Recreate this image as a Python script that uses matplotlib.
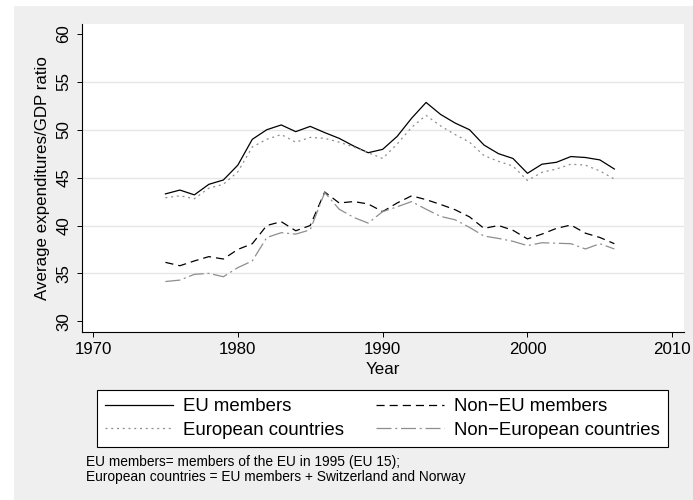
"""
Average expenditures/GDP ratio by country group, 1975-2006 (Stata-style line chart)
"""
import matplotlib
matplotlib.use("Agg")
import matplotlib.pyplot as plt
from matplotlib.patches import Rectangle

plt.rcParams['font.family'] = ['Liberation Sans', 'DejaVu Sans']

years = [1975, 1976, 1977, 1978, 1979, 1980, 1981, 1982, 1983, 1984, 1985,
         1986, 1987, 1988, 1989, 1990, 1991, 1992, 1993, 1994, 1995, 1996,
         1997, 1998, 1999, 2000, 2001, 2002, 2003, 2004, 2005, 2006]

eu_members = [43.3, 43.7, 43.2, 44.3, 44.75, 46.3, 49.0, 50.0, 50.5, 49.8, 50.35,
              49.7, 49.1, 48.3, 47.6, 47.95, 49.3, 51.2, 52.85, 51.6, 50.7, 50.0,
              48.4, 47.5, 47.0, 45.45, 46.4, 46.6, 47.2, 47.1, 46.85, 45.9]

european = [42.9, 43.1, 42.8, 43.9, 44.3, 45.6, 48.2, 49.0, 49.5, 48.7, 49.2,
            49.1, 48.7, 48.2, 47.6, 47.0, 48.5, 50.25, 51.5, 50.4, 49.5, 48.7,
            47.3, 46.7, 46.2, 44.7, 45.55, 45.9, 46.4, 46.3, 45.7, 44.85]

non_eu = [36.15, 35.8, 36.3, 36.75, 36.5, 37.5, 38.1, 40.0, 40.4, 39.45, 40.0,
          43.5, 42.35, 42.5, 42.25, 41.45, 42.35, 43.1, 42.7, 42.2, 41.65, 40.9,
          39.7, 40.0, 39.5, 38.6, 39.1, 39.7, 40.05, 39.2, 38.75, 38.1]

non_european = [34.15, 34.3, 34.9, 35.0, 34.65, 35.6, 36.3, 38.75, 39.25, 39.1, 39.55,
                43.45, 41.7, 40.85, 40.25, 41.45, 41.95, 42.5, 41.7, 40.95, 40.6, 39.8,
                38.9, 38.65, 38.35, 37.9, 38.2, 38.15, 38.1, 37.55, 38.1, 37.55]

x_ticks = [1970, 1980, 1990, 2000, 2010]
y_ticks = [30, 35, 40, 45, 50, 55, 60]
y_grid = [35, 40, 45, 50, 55]

W, H = 693, 500
BG = '#efefef'
GRAY = '#8e8e8e'
FS = 12.2

fig = plt.figure(figsize=(W / 100, H / 100), dpi=100, facecolor='white')
# Stata-style light gray graph region
fig.patches.append(Rectangle((14 / W, 0), 1, 1 - 6 / H, transform=fig.transFigure,
                             facecolor=BG, edgecolor='none', zorder=-10))

ax = fig.add_axes([81.7 / W, 1 - 332 / H, (684 - 81.7) / W, (332 - 24) / H])
ax.set_facecolor('white')

lw = 0.9
ax.plot(years, eu_members, color='black', lw=lw, label='EU members', zorder=3)
ax.plot(years, non_eu, color='black', lw=lw, linestyle=(0, (6.5, 4.0)),
        label='Non\u2212EU members', zorder=3)
ax.plot(years, european, color=GRAY, lw=lw, linestyle=(0, (1.6, 3.0)),
        label='European countries', zorder=3)
ax.plot(years, non_european, color=GRAY, lw=lw, linestyle=(0, (12, 3, 1.6, 3)),
        label='Non\u2212European countries', zorder=3)

for g in y_grid:
    ax.axhline(g, color='#e6e6e6', lw=1.0, zorder=1)

ax.set_xlim(1969.22, 2010.81)
ax.set_ylim(28.88, 61.04)
ax.set_xticks(x_ticks)
ax.set_yticks(y_ticks)
ax.tick_params(axis='both', labelsize=FS, length=3.6, width=0.7, color='black')
ax.tick_params(axis='x', pad=3.5)
ax.tick_params(axis='y', pad=4)
for lab in ax.get_yticklabels():
    lab.set_rotation(90)
    lab.set_va('center')

for s in ['top', 'right']:
    ax.spines[s].set_visible(False)
for s in ['left', 'bottom']:
    ax.spines[s].set_linewidth(0.8)

ax.set_xlabel('Year', fontsize=FS, labelpad=3.5)
ax.set_ylabel('Average expenditures/GDP ratio', fontsize=FS, labelpad=4.5)

handles, labels = ax.get_legend_handles_labels()
order = [0, 2, 1, 3]
leg = fig.legend([handles[i] for i in order], [labels[i] for i in order],
                 loc='center', bbox_to_anchor=(382.5 / W, 1 - 418.5 / H),
                 ncol=2, fontsize=13.4, frameon=True, fancybox=False,
                 handlelength=3.65, handletextpad=0.55, columnspacing=1.7,
                 labelspacing=0.35, borderpad=0.45)
leg.get_frame().set_edgecolor('black')
leg.get_frame().set_linewidth(0.8)
leg.get_frame().set_facecolor('white')
leg.get_frame().set_alpha(1)

fig.text(85.7 / W, 1 - 462 / H, 'EU members= members of the EU in 1995 (EU 15);',
         fontsize=9.9, va='center', ha='left')
fig.text(85.7 / W, 1 - 476.7 / H, 'European countries = EU members + Switzerland and Norway',
         fontsize=9.9, va='center', ha='left')

fig.savefig('out.png', dpi=100, facecolor='white')
